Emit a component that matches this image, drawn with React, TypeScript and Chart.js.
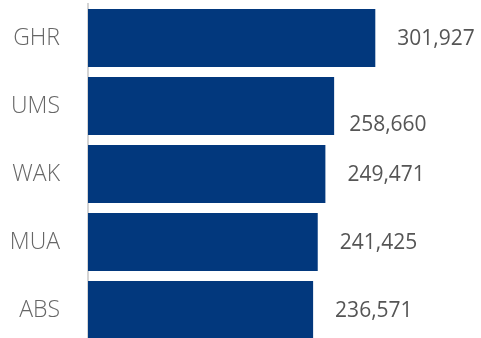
import React, { useEffect, useRef } from "react";
import { Chart, registerables } from "chart.js";

Chart.register(...registerables);

const categories = ["GHR", "UMS", "WAK", "MUA", "ABS"];
const values = [301927, 258660, 249471, 241425, 236571];

const BAR_COLOR = "#02387D";
const FONT = "'Open Sans', 'Lato', sans-serif";

const valueLabels = {
  id: "valueLabels",
  afterDatasetsDraw(chart: any) {
    const ctx = chart.ctx;
    const meta = chart.getDatasetMeta(0);
    ctx.save();
    ctx.font = `400 21px ${FONT}`;
    ctx.fillStyle = "#555555";
    ctx.textAlign = "left";
    ctx.textBaseline = "middle";
    meta.data.forEach((bar: any, i: number) => {
      const v = chart.data.datasets[0].data[i] as number;
      const text = v.toLocaleString("en-US");
      const shifted = i === 1;
      const dx = shifted ? 15 : 22;
      const dy = shifted ? 19 : 1;
      ctx.fillText(text, bar.x + dx, bar.y + dy);
    });
    ctx.restore();
  },
};

export default function App() {
  const ref = useRef<HTMLCanvasElement | null>(null);
  useEffect(() => {
    if (!ref.current) return;
    const chart = new Chart(ref.current, {
      type: "bar",
      data: {
        labels: categories,
        datasets: [
          {
            data: values,
            backgroundColor: BAR_COLOR,
            borderWidth: 0,
            barPercentage: 1,
            categoryPercentage: 58 / 68,
          },
        ],
      },
      options: {
        indexAxis: "y",
        animation: false,
        responsive: true,
        maintainAspectRatio: false,
        devicePixelRatio: 1,
        layout: { padding: { top: 4, bottom: 4, left: 0, right: 0 } },
        plugins: { legend: { display: false }, tooltip: { enabled: false } },
        scales: {
          x: {
            display: false,
            min: 0,
            max: 413000,
          },
          y: {
            afterFit(scale: any) {
              scale.width = 88;
              scale.paddingTop = 0;
              scale.paddingBottom = 0;
            },
            grid: { display: false, drawTicks: false },
            border: { display: true, color: "#d4d4d4", width: 2 },
            ticks: {
              padding: 28,
              color: "#666666",
              font: { family: FONT, size: 23, weight: "300" as any },
            },
          },
        },
      },
      plugins: [valueLabels],
    });
    return () => chart.destroy();
  }, []);
  return (
    <div style={{ position: "fixed", left: 0, top: 0, width: 481, height: 348, overflow: "hidden", background: "#fff" }}>
      <canvas ref={ref} />
    </div>
  );
}
